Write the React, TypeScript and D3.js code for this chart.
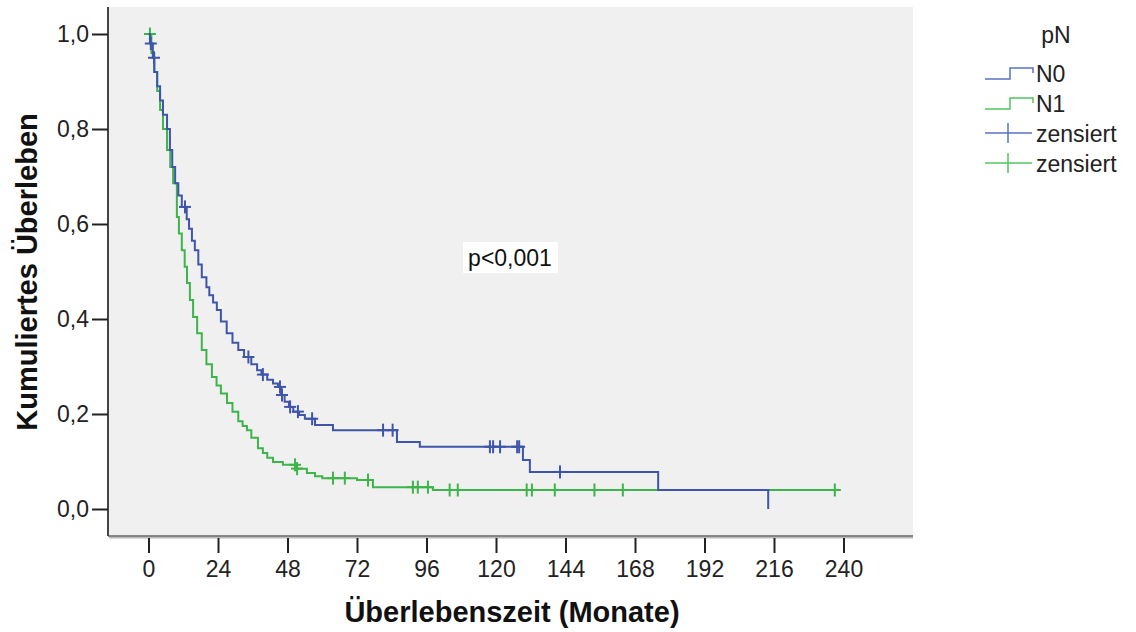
import { useEffect, useRef } from "react";
import * as d3 from "d3";

type Step = [number, number];

// months on x, survival on y
const xTicks = [0, 24, 48, 72, 96, 120, 144, 168, 192, 216, 240];
const yTicks = [0, 0.2, 0.4, 0.6, 0.8, 1.0];

// N0: [time, survival] where the curve steps down
const n0Steps: Step[] = [
  [0, 1], [0.5, 0.98], [1.5, 0.95], [2, 0.92], [3, 0.89], [4, 0.86], [5, 0.83],
  [6.4, 0.8], [7.4, 0.756], [8.2, 0.72], [9.2, 0.686], [10.3, 0.66], [11.5, 0.636],
  [13.2, 0.61], [14, 0.59], [15, 0.565], [16, 0.545], [17.2, 0.515], [18.4, 0.488],
  [20, 0.467], [21, 0.45], [22.3, 0.435], [23.6, 0.419], [25, 0.395], [27, 0.37],
  [29, 0.35], [31, 0.335], [33, 0.32], [35.5, 0.305], [37.5, 0.292], [39, 0.283],
  [41, 0.272], [43, 0.264], [44.7, 0.257], [45.8, 0.24], [47, 0.226], [48.5, 0.215],
  [50, 0.205], [52, 0.198], [54, 0.19], [57.5, 0.177], [63.7, 0.166], [85.8, 0.141],
  [93.7, 0.131], [129.3, 0.103], [131.7, 0.078], [176, 0.04], [214, 0],
];
const n0Censored = [
  0.8, 1.9, 12.6, 34.5, 39.5, 45.4, 46.1, 48.9, 51.6, 56.5, 81, 84.3,
  117.9, 119, 121.4, 127.3, 128, 142.1,
];

// N1
const n1Steps: Step[] = [
  [0, 1], [1, 0.96], [2, 0.92], [3, 0.88], [4, 0.84], [5, 0.8], [6.4, 0.756],
  [7.5, 0.72], [8.5, 0.686], [9.8, 0.615], [10.5, 0.58], [11.5, 0.545], [12.5, 0.51],
  [13.3, 0.476], [14.3, 0.44], [15.4, 0.404], [16.8, 0.37], [18.4, 0.335], [20, 0.305],
  [21.9, 0.278], [23.5, 0.26], [25, 0.243], [27.1, 0.223], [29, 0.205], [31, 0.185],
  [32.5, 0.175], [34, 0.166], [35.5, 0.15], [37.8, 0.128], [39.5, 0.118], [41, 0.108],
  [43, 0.099], [46.4, 0.093], [51, 0.085], [54.7, 0.076], [57.5, 0.069], [60, 0.065],
  [72, 0.061], [77.5, 0.046], [98.2, 0.04],
];
const n1Censored = [
  0.5, 50.6, 51.3, 63.7, 67.8, 75.8, 91.3, 93, 96.5, 104, 106.8, 130.6, 132.4,
  140.3, 154, 163.8, 237,
];

const groupNames = ["N0", "N1"];
const groupColors = ["#3E55AB", "#3DB54A"];
const legendColors = ["#5A72C2", "#52C560"];

const survivalAt = (steps: Step[], t: number) => {
  let s = steps[0][1];
  for (const [time, v] of steps) {
    if (time <= t) s = v;
  }
  return s;
};

export default function App() {
  const svgRef = useRef<SVGSVGElement>(null);

  useEffect(() => {
    const W = 1136;
    const H = 632;
    const plot = { left: 108, right: 913, top: 7, bottom: 536 };

    const svg = d3.select(svgRef.current)
      .attr("width", W)
      .attr("height", H)
      .html(null);

    const x = d3.scaleLinear().domain([0, 240]).range([148.5, 843.5]);
    const y = d3.scaleLinear().domain([0, 1]).range([509, 34]);

    svg.append("rect")
      .attr("width", W).attr("height", H).attr("fill", "#fff");

    svg.append("rect")
      .attr("x", plot.left)
      .attr("y", plot.top)
      .attr("width", plot.right - plot.left)
      .attr("height", plot.bottom - plot.top)
      .attr("fill", "#F0F0F0");

    // frame: left axis and bottom edge
    svg.append("line")
      .attr("x1", plot.left + 1).attr("x2", plot.right)
      .attr("y1", plot.bottom + 1.5).attr("y2", plot.bottom + 1.5)
      .attr("stroke", "#bbb").attr("stroke-width", 2);
    svg.append("line")
      .attr("x1", plot.left).attr("x2", plot.right)
      .attr("y1", plot.bottom).attr("y2", plot.bottom)
      .attr("stroke", "#666").attr("stroke-width", 1.5);
    svg.append("line")
      .attr("x1", plot.left).attr("x2", plot.left)
      .attr("y1", plot.top).attr("y2", plot.bottom)
      .attr("stroke", "#444").attr("stroke-width", 2);

    const font = "'Liberation Sans', Arial, sans-serif";

    const xAxis = svg.append("g")
      .attr("transform", `translate(0,${plot.bottom + 2})`)
      .call(d3.axisBottom(x).tickValues(xTicks).tickSize(15).tickPadding(8).tickFormat(d3.format("d")));
    xAxis.select(".domain").remove();
    xAxis.selectAll(".tick line").attr("stroke", "#222").attr("stroke-width", 2);
    xAxis.selectAll(".tick text")
      .attr("fill", "#222")
      .style("font-family", font)
      .style("font-size", "23px");

    const yAxis = svg.append("g")
      .attr("transform", `translate(${plot.left},0)`)
      .call(d3.axisLeft(y).tickValues(yTicks).tickSize(16).tickPadding(3)
        .tickFormat(d => d3.format(".1f")(d as number).replace(".", ",")));
    yAxis.select(".domain").remove();
    yAxis.selectAll(".tick line").attr("stroke", "#222").attr("stroke-width", 2);
    yAxis.selectAll(".tick text")
      .attr("fill", "#222")
      .style("font-family", font)
      .style("font-size", "23px");

    svg.append("text")
      .attr("x", 512)
      .attr("y", 622)
      .attr("text-anchor", "middle")
      .style("font-family", font)
      .style("font-weight", "bold")
      .style("font-size", "29px")
      .attr("fill", "#111")
      .text("Überlebenszeit (Monate)");

    svg.append("text")
      .attr("transform", `translate(37,272) rotate(-90)`)
      .attr("text-anchor", "middle")
      .style("font-family", font)
      .style("font-weight", "bold")
      .style("font-size", "29px")
      .attr("fill", "#111")
      .text("Kumuliertes Überleben");

    const line = d3.line<Step>()
      .x(d => x(d[0]))
      .y(d => y(d[1]))
      .curve(d3.curveStepAfter);

    const groups = [
      { steps: n0Steps, censored: n0Censored },
      { steps: n1Steps, censored: n1Censored },
    ];

    // draw N1 first so N0 sits on top where they overlap
    [1, 0].forEach(i => {
      const g = groups[i];
      const color = groupColors[i];
      const lastStep = g.steps[g.steps.length - 1];
      const lastCensor = d3.max(g.censored) as number;
      const pts = [...g.steps];
      if (lastCensor > lastStep[0]) pts.push([lastCensor, survivalAt(g.steps, lastCensor)]);

      svg.append("path")
        .datum(pts)
        .attr("fill", "none")
        .attr("stroke", color)
        .attr("stroke-width", 2)
        .attr("d", line);

      const marks = svg.append("g").attr("stroke", color).attr("stroke-width", 2);
      g.censored.forEach(t => {
        const cx = x(t);
        const cy = y(survivalAt(g.steps, t));
        marks.append("line")
          .attr("x1", cx).attr("x2", cx)
          .attr("y1", cy - 6.5).attr("y2", cy + 6.5);
        marks.append("line")
          .attr("x1", cx - 6).attr("x2", cx + 6)
          .attr("y1", cy).attr("y2", cy);
      });
    });

    // p value label
    svg.append("rect")
      .attr("x", 463).attr("y", 242)
      .attr("width", 95).attr("height", 31)
      .attr("fill", "#fff");
    svg.append("text")
      .attr("x", 510)
      .attr("y", 266)
      .attr("text-anchor", "middle")
      .style("font-family", font)
      .style("font-size", "23px")
      .attr("fill", "#111")
      .text("p<0,001");

    // legend
    const legend = svg.append("g");
    legend.append("text")
      .attr("x", 1056).attr("y", 43)
      .attr("text-anchor", "middle")
      .style("font-family", font)
      .style("font-size", "23px")
      .attr("fill", "#222")
      .text("pN");

    groupNames.forEach((name, i) => {
      const base = 79 + i * 30;
      legend.append("path")
        .attr("d", `M985,${base}H1010V${base - 11}H1033V${base - 6}`)
        .attr("fill", "none")
        .attr("stroke", legendColors[i])
        .attr("stroke-width", 1.5);
      legend.append("text")
        .attr("x", 1036).attr("y", base + 3)
        .style("font-family", font)
        .style("font-size", "23px")
        .attr("fill", "#222")
        .text(name);
    });

    groupNames.forEach((_, i) => {
      const cy = 133 + i * 30;
      legend.append("line")
        .attr("x1", 985).attr("x2", 1032)
        .attr("y1", cy).attr("y2", cy)
        .attr("stroke", legendColors[i]).attr("stroke-width", 1.5);
      legend.append("line")
        .attr("x1", 1008).attr("x2", 1008)
        .attr("y1", cy - 10).attr("y2", cy + 10)
        .attr("stroke", legendColors[i]).attr("stroke-width", 1.5);
      legend.append("text")
        .attr("x", 1036).attr("y", cy + 9)
        .style("font-family", font)
        .style("font-size", "23px")
        .attr("fill", "#222")
        .text("zensiert");
    });
  }, []);

  return (
    <svg ref={svgRef} style={{ position: "absolute", left: 0, top: 0, display: "block" }}></svg>
  );
}
